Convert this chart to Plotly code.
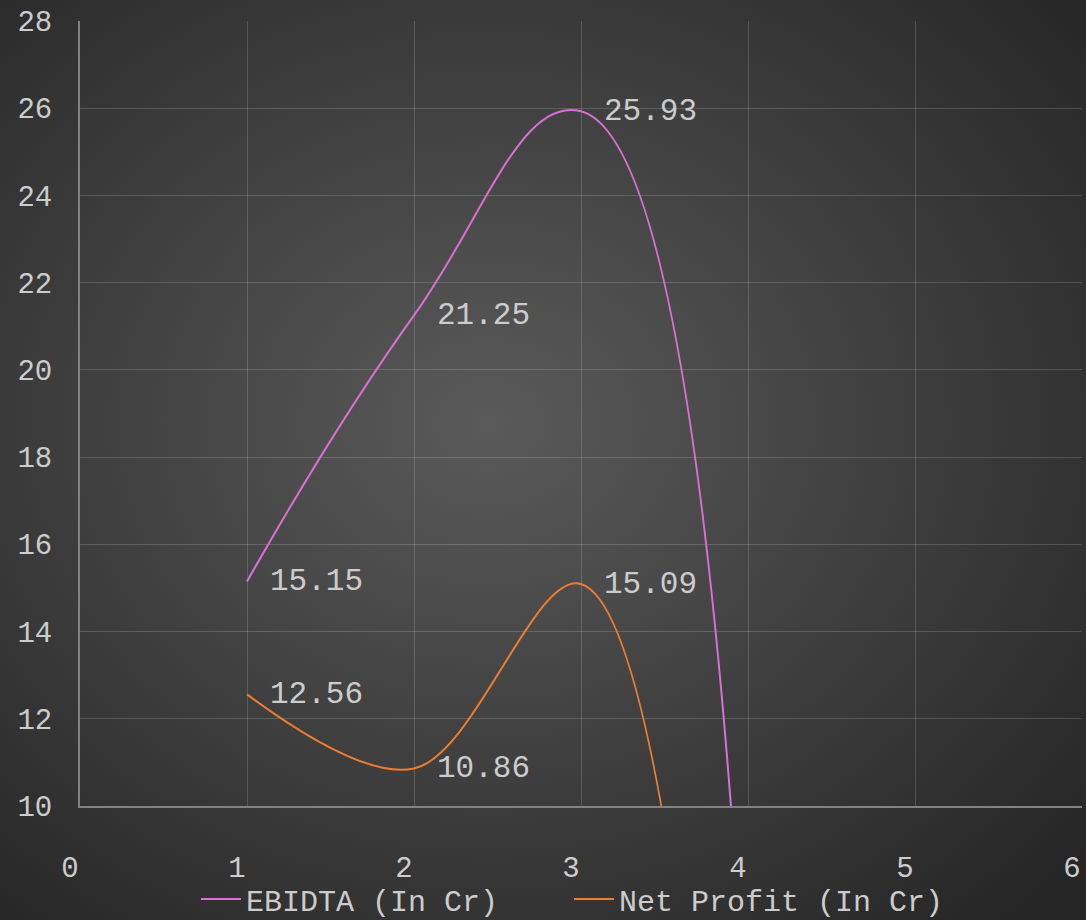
import base64
import plotly.graph_objects as go

# ---- data ----
quarters = [1, 2, 3, 4]
ebidta = [15.15, 21.25, 25.93, 4.0]
net_profit = [12.56, 10.86, 15.09, -9.0]
x_ticks = [0, 1, 2, 3, 4, 5, 6]
y_ticks = [10, 12, 14, 16, 18, 20, 22, 24, 26, 28]

W, H = 1086, 920
ML, MR, MT, MB = 80, 4, 21, 114
PW, PH = W - ML - MR, H - MT - MB

FONT = "Liberation Mono, DejaVu Sans Mono, monospace"
TXT = "#cccccc"
PINK = "#da70d6"
ORANGE = "#ed7d31"

svg = (
    f'<svg xmlns="http://www.w3.org/2000/svg" width="{W}" height="{H}">'
    '<defs><radialGradient id="g" cx="0.45" cy="0.46" r="0.72">'
    '<stop offset="0" stop-color="#5a5a5a"/>'
    '<stop offset="1" stop-color="#262626"/>'
    '</radialGradient></defs>'
    f'<rect width="{W}" height="{H}" fill="url(#g)"/></svg>'
)
bg_uri = "data:image/svg+xml;base64," + base64.b64encode(svg.encode()).decode()

fig = go.Figure()
fig.add_trace(go.Scatter(
    x=quarters, y=ebidta, mode="lines", name="EBIDTA (In Cr)",
    line=dict(color=PINK, width=2, shape="spline", smoothing=1.3),
))
fig.add_trace(go.Scatter(
    x=quarters, y=net_profit, mode="lines", name="Net Profit (In Cr)",
    line=dict(color=ORANGE, width=2, shape="spline", smoothing=1.0),
))

annotations = []
for series in (ebidta, net_profit):
    for xv, yv in zip(quarters, series):
        if y_ticks[0] <= yv <= y_ticks[-1]:
            annotations.append(dict(
                x=xv, y=yv, xref="x", yref="y", text=f"{yv:.2f}",
                showarrow=False, xanchor="left", yanchor="middle", xshift=21,
                font=dict(family=FONT, size=31, color=TXT),
            ))

fig.update_layout(
    width=W, height=H,
    margin=dict(l=ML, r=MR, t=MT, b=MB, pad=0, autoexpand=False),
    paper_bgcolor="#2e2e2e",
    plot_bgcolor="rgba(0,0,0,0)",
    images=[dict(
        source=bg_uri, xref="paper", yref="paper",
        x=-ML / PW, y=1 + MT / PH, sizex=W / PW, sizey=H / PH,
        xanchor="left", yanchor="top", sizing="stretch", layer="below",
    )],
    annotations=annotations,
    showlegend=True,
    legend=dict(
        orientation="h", x=0.488, xanchor="center", y=-93 / PH,
        yanchor="middle", font=dict(family=FONT, size=30, color=TXT),
        bgcolor="rgba(0,0,0,0)", itemwidth=40, tracegroupgap=0,
        entrywidth=318, entrywidthmode="pixels",
    ),
    xaxis=dict(
        range=[0, 6], tickmode="array", tickvals=x_ticks,
        showgrid=True, gridcolor="rgba(255,255,255,0.16)", gridwidth=1,
        showline=True, linecolor="#828282", linewidth=2,
        zeroline=False, ticks="", ticklabelstandoff=34, ticklabelshift=-10,
        tickfont=dict(family=FONT, size=29, color=TXT),
    ),
    yaxis=dict(
        range=[10, 28], tickmode="array", tickvals=y_ticks,
        showgrid=True, gridcolor="rgba(255,255,255,0.16)", gridwidth=1,
        showline=True, linecolor="#828282", linewidth=2,
        zeroline=False, ticks="", ticklabelstandoff=20,
        tickfont=dict(family=FONT, size=29, color=TXT),
    ),
)

fig.write_html(
    "out.html",
    config={"displayModeBar": False},
    post_script="document.body.style.margin='0';document.body.style.overflow='hidden';",
)
